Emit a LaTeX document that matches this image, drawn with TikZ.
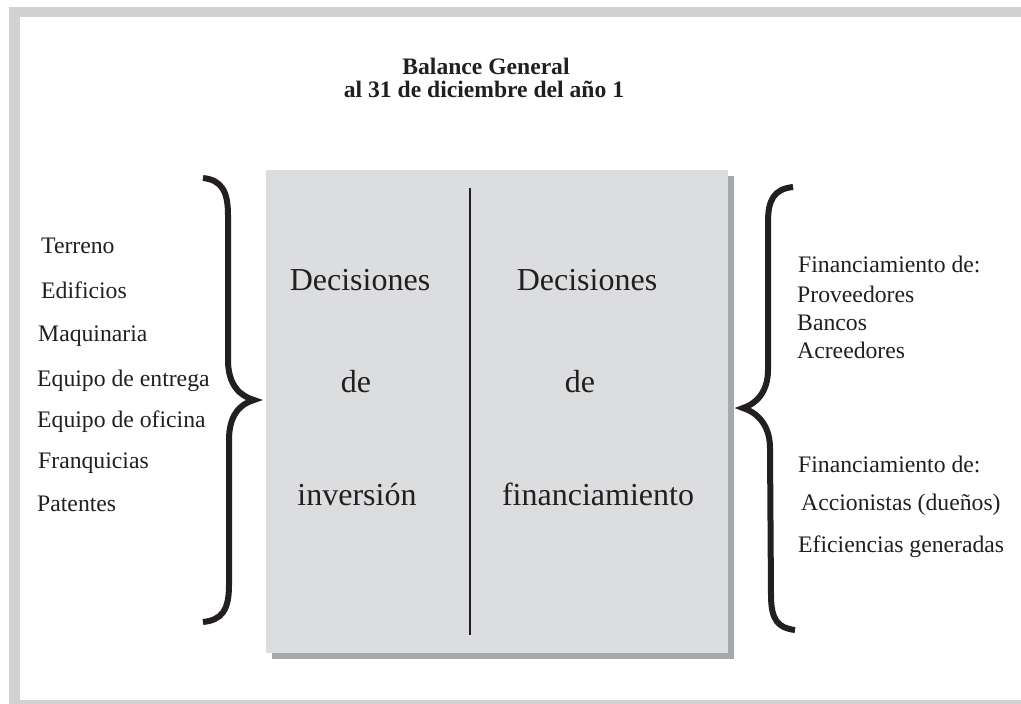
\documentclass[tikz,border=0pt]{standalone}
\usepackage{fontspec}
\setmainfont{Liberation Serif}
\definecolor{marco}{HTML}{D1D2D4}
\definecolor{caja}{HTML}{DCDDDF}
\definecolor{sombra}{HTML}{A7A8AB}
\definecolor{tinta}{HTML}{231F20}
\begin{document}
\begin{tikzpicture}[x=1pt, y=-1pt,
    lista/.style={anchor=base west, inner sep=0pt, text=tinta, font=\fontsize{23.7}{27}\selectfont},
    grande/.style={anchor=base, inner sep=0pt, text=tinta, font=\fontsize{32}{36}\selectfont},
    titulo/.style={anchor=base, inner sep=0pt, text=tinta, font=\bfseries\fontsize{23.6}{27}\selectfont},
    llave/.style={draw=tinta, line width=6pt}]

  \useasboundingbox (0,0) rectangle (1021,704);

  % Marco exterior
  \fill[marco] (9,7) rectangle (1021,704);
  \fill[white] (20,17) rectangle (1021,700);

  % Titulo
  \node[titulo] (tit1) at (486,74) {Balance General};
  \node[titulo] (tit2) at (484,97) {al 31 de diciembre del año 1};

  % Caja central con sombra
  \fill[sombra] (272,176) rectangle (734,659);
  \fill[caja] (266,170) rectangle (728,653);
  \coordinate (sup) at (470,188);
  \coordinate (inf) at (470,635);
  \draw[tinta, line width=2.5pt] (sup) -- (inf);

  % Columna izquierda
  \node[grande] (dec1) at (360,290) {Decisiones};
  \node[grande] (de1)  at (356,392) {de};
  \node[grande] (inv)  at (357,505) {inversión};

  % Columna derecha
  \node[grande] (dec2) at (587,290) {Decisiones};
  \node[grande] (de2)  at (580,392) {de};
  \node[grande] (fin)  at (598,505) {financiamiento};

  % Llave izquierda
  \draw[llave] (203,178) .. controls (222,180) and (228,192) .. (228,215)
    -- (228,360) .. controls (228,385) and (240,396) .. (254,400)
    .. controls (240,404) and (229,415) .. (229,440)
    -- (229,585) .. controls (229,610) and (222,620) .. (203,622);

  % Llave derecha
  \draw[llave] (793,187) .. controls (774,189) and (768,200) .. (768,222)
    -- (768,370) .. controls (768,392) and (756,404) .. (743,408)
    .. controls (756,412) and (770,424) .. (770,448)
    -- (771,595) .. controls (771,620) and (778,628) .. (795,630);

  % Activos
  \node[lista] (ter) at (41,253) {Terreno};
  \node[lista] (edi) at (41,298) {Edificios};
  \node[lista] (maq) at (38,341) {Maquinaria};
  \node[lista] (ent) at (37,386) {Equipo de entrega};
  \node[lista] (ofi) at (37,427) {Equipo de oficina};
  \node[lista] (fra) at (38,468) {Franquicias};
  \node[lista] (pat) at (37,511) {Patentes};

  % Pasivos y capital
  \node[lista] (fin1) at (798,272) {Financiamiento de:};
  \node[lista] (pro)  at (797,302) {Proveedores};
  \node[lista] (ban)  at (797,330) {Bancos};
  \node[lista] (acr)  at (797,358) {Acreedores};
  \node[lista] (fin2) at (798,472) {Financiamiento de:};
  \node[lista] (acc)  at (801,510) {Accionistas (dueños)};
  \node[lista] (efi)  at (798,552) {Eficiencias generadas};

\end{tikzpicture}
\end{document}
